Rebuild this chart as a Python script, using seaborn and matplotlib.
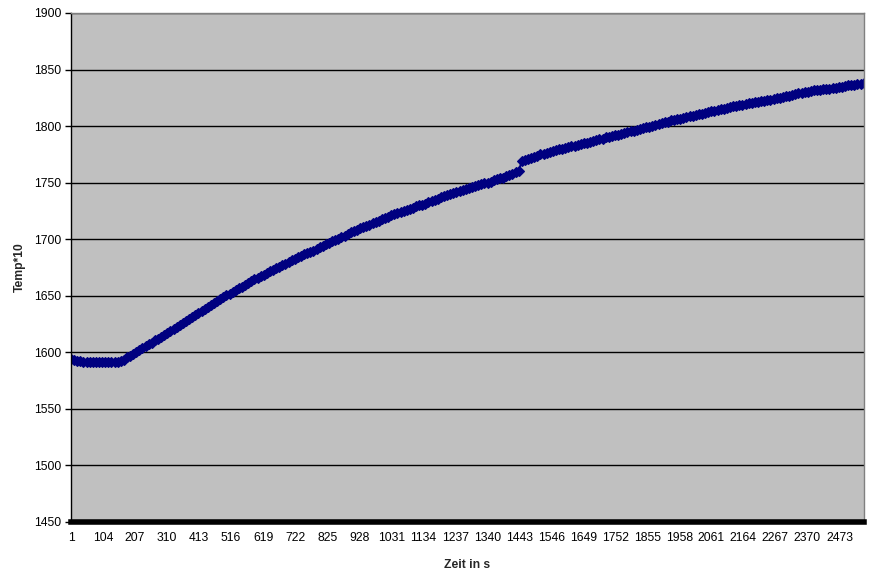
#!/usr/bin/env python3
"""
plot.py
Temperaturverlauf (Temp*10 ueber Zeit in s) im Excel-Stil nachbauen.
"""

import pandas as pd
import matplotlib.pyplot as plt
import seaborn as sns

# Zeitachse: ein Messwert alle 10 s
zeit = list(range(1, 2552, 10))

temp = [
    1594.0, 1593.0, 1592.0, 1592.0, 1591.5, 1591.5, 1591.5, 1591.5, 1591.5, 1591.5,
    1591.5, 1591.5, 1591.5, 1591.5, 1591.5, 1591.5, 1592.0, 1593.5, 1595.5, 1597.0,
    1598.5, 1600.5, 1602.0, 1603.5, 1605.5, 1607.0, 1608.5, 1610.5, 1612.0, 1613.5,
    1615.5, 1617.0, 1619.0, 1621.0, 1622.5, 1624.5, 1626.0, 1628.0, 1629.5, 1631.5,
    1633.0, 1635.0, 1636.5, 1638.0, 1640.0, 1641.5, 1643.5, 1645.0, 1647.0, 1648.5,
    1650.5, 1652.0, 1653.5, 1655.0, 1656.5, 1658.0, 1659.5, 1661.5, 1663.0, 1664.5,
    1666.0, 1667.5, 1668.5, 1670.0, 1671.5, 1673.0, 1674.5, 1675.5, 1677.0, 1678.5,
    1680.0, 1681.5, 1682.5, 1684.0, 1685.0, 1686.5, 1687.5, 1689.0, 1690.0, 1691.5,
    1693.0, 1694.0, 1695.5, 1696.5, 1698.0, 1699.0, 1700.5, 1702.0, 1703.0, 1704.5,
    1706.0, 1707.0, 1708.0, 1709.5, 1710.5, 1711.5, 1713.0, 1714.0, 1715.0, 1716.5,
    1717.5, 1719.0, 1720.0, 1721.0, 1722.0, 1723.0, 1724.0, 1725.0, 1726.0, 1727.0,
    1728.0, 1729.0, 1730.0, 1730.5, 1731.5, 1732.5, 1733.5, 1735.0, 1736.0, 1737.0,
    1738.0, 1739.0, 1740.0, 1741.0, 1742.0, 1742.5, 1743.5, 1744.5, 1745.0, 1746.0,
    1747.0, 1747.5, 1748.5, 1749.5, 1750.0, 1751.0, 1752.0, 1753.0, 1754.0, 1754.5,
    1755.5, 1756.5, 1757.5, 1759.0, 1760.0, 1769.0, 1770.0, 1771.0, 1772.0, 1773.0,
    1774.0, 1775.0, 1775.5, 1776.5, 1777.0, 1778.0, 1778.5, 1779.5, 1780.0, 1781.0,
    1781.5, 1782.0, 1782.5, 1783.5, 1784.0, 1785.0, 1785.5, 1786.0, 1787.0, 1787.5,
    1788.5, 1789.0, 1790.0, 1790.5, 1791.0, 1792.0, 1792.5, 1793.0, 1794.0, 1794.5,
    1795.5, 1796.0, 1797.0, 1797.5, 1798.0, 1799.0, 1799.5, 1800.5, 1801.0, 1802.0,
    1802.5, 1803.5, 1804.0, 1805.0, 1805.5, 1806.0, 1806.5, 1807.0, 1808.0, 1808.5,
    1809.0, 1809.5, 1810.5, 1811.0, 1811.5, 1812.5, 1813.0, 1813.5, 1814.0, 1815.0,
    1815.5, 1816.0, 1816.5, 1817.5, 1818.0, 1818.5, 1819.0, 1819.5, 1820.0, 1820.5,
    1821.0, 1821.5, 1822.0, 1822.5, 1823.0, 1823.5, 1824.0, 1824.5, 1825.0, 1826.0,
    1826.5, 1827.0, 1827.5, 1828.5, 1829.0, 1829.5, 1830.0, 1830.5, 1831.0, 1831.5,
    1831.5, 1832.0, 1832.5, 1833.0, 1833.0, 1833.5, 1834.0, 1834.5, 1835.0, 1835.5,
    1836.0, 1836.5, 1836.5, 1837.0, 1837.5, 1838.0,
]
assert len(zeit) == len(temp)

x_ticks = list(range(1, 2474, 103))
y_ticks = list(range(1450, 1901, 50))

df = pd.DataFrame({"Zeit": zeit, "Temp": temp})

sns.set_theme(style="white")
plt.rcParams["font.family"] = ["Liberation Sans", "DejaVu Sans"]

fig = plt.figure(figsize=(8.72, 5.77), dpi=100)
ax = fig.add_axes([71 / 872, 1 - 522 / 577, (864 - 71) / 872, (522 - 13) / 577])
ax.set_facecolor("#C0C0C0")

sns.lineplot(data=df, x="Zeit", y="Temp", ax=ax, color="#000080",
             linewidth=1.5, marker="D", markersize=5.5, markeredgewidth=0.8,
             markeredgecolor="#000080")

ax.set_xlim(1, 2552)
ax.set_ylim(1450, 1900)
ax.set_xticks(x_ticks)
ax.set_yticks(y_ticks)
ax.yaxis.grid(True, color="black", linewidth=1)
ax.set_axisbelow(True)

ax.tick_params(axis="x", length=0, pad=7, labelsize=8.7, colors="black")
ax.tick_params(axis="y", length=4, width=1, pad=3, labelsize=8.7, colors="black",
               left=True, direction="out")

ax.spines["bottom"].set_color("black")
ax.spines["bottom"].set_linewidth(4)
ax.spines["left"].set_color("black")
ax.spines["left"].set_linewidth(1)
ax.spines["top"].set_color("#808080")
ax.spines["right"].set_color("#808080")
ax.spines["top"].set_linewidth(1)
ax.spines["right"].set_linewidth(1)

ax.set_xlabel("Zeit in s", fontsize=8.7, fontweight="bold", labelpad=11)
ax.set_ylabel("Temp*10", fontsize=8.7, fontweight="bold", labelpad=6)

fig.savefig("out.png", dpi=100)
plt.close(fig)
